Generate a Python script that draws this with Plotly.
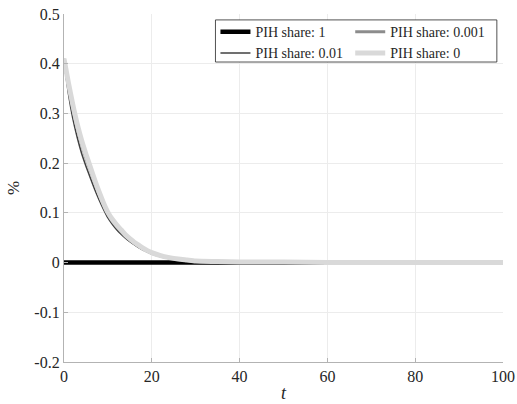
import plotly.graph_objects as go

# Horizon (periods) at which the impulse responses are sampled
t = [0, 1, 2, 3, 4, 5, 6, 7, 8, 9, 10, 11, 12, 13, 14, 15, 16, 17, 18, 19, 20,
     22, 24, 26, 28, 30, 35, 40, 45, 50, 60, 70, 80, 90, 100]

# Impulse responses (%) for each PIH share
irf_share_1 = [0.0] * len(t)
irf_share_001 = [0.405, 0.340, 0.290, 0.252, 0.220, 0.194, 0.170, 0.147, 0.126, 0.107,
                 0.090, 0.077, 0.066, 0.057, 0.049, 0.042, 0.036, 0.030, 0.025, 0.021,
                 0.017, 0.012, 0.008, 0.005, 0.003, 0.002, 0.000, -0.001, -0.001, -0.001,
                 -0.001, 0.000, 0.000, 0.000, 0.000]
irf_share_0001 = [0.410, 0.356, 0.310, 0.271, 0.238, 0.210, 0.185, 0.160, 0.137, 0.116,
                  0.097, 0.083, 0.072, 0.062, 0.053, 0.045, 0.039, 0.033, 0.027, 0.023,
                  0.019, 0.013, 0.009, 0.006, 0.004, 0.003, 0.001, 0.001, 0.000, 0.000,
                  0.000, 0.000, 0.000, 0.000, 0.000]
irf_share_0 = [0.410, 0.362, 0.318, 0.279, 0.246, 0.218, 0.192, 0.166, 0.142, 0.120,
               0.101, 0.087, 0.076, 0.066, 0.056, 0.048, 0.041, 0.035, 0.029, 0.024,
               0.020, 0.014, 0.010, 0.007, 0.005, 0.003, 0.002, 0.001, 0.001, 0.001,
               0.000, 0.000, 0.000, 0.000, 0.000]

series_names = ["PIH share: 1", "PIH share: 0.01", "PIH share: 0.001", "PIH share: 0"]
series_values = [irf_share_1, irf_share_001, irf_share_0001, irf_share_0]
series_colors = ["#000000", "#404040", "#8c8c8c", "#d9d9d9"]
series_widths = [4.5, 1.5, 3, 5]
legend_column = ["legend", "legend", "legend2", "legend2"]

x_ticks = [0, 20, 40, 60, 80, 100]
y_ticks = [-0.2, -0.1, 0, 0.1, 0.2, 0.3, 0.4, 0.5]
y_tick_labels = ["-0.2", "-0.1", "0", "0.1", "0.2", "0.3", "0.4", "0.5"]

FONT = "Times New Roman, Liberation Serif, Noto Serif, DejaVu Serif, serif"
TXT = "#262626"

fig = go.Figure()
for name, vals, col, w, lg in zip(series_names, series_values, series_colors,
                                  series_widths, legend_column):
    fig.add_trace(go.Scatter(
        x=t, y=vals, mode="lines", name=name, legend=lg,
        line=dict(color=col, width=w, shape="spline", smoothing=0.6),
    ))

axis_common = dict(
    showgrid=True, gridcolor="#ececec", gridwidth=1,
    showline=True, linecolor="#b3b3b3", linewidth=1.2,
    ticks="inside", ticklen=4, tickcolor="#b3b3b3",
    zeroline=False, mirror=False, automargin=False,
    tickfont=dict(family=FONT, size=16, color=TXT),
)

fig.update_xaxes(range=[0, 100], tickvals=x_ticks,
                 title=dict(text="<i>t</i>", font=dict(family=FONT, size=18, color=TXT),
                            standoff=2),
                 **axis_common)
fig.update_yaxes(range=[-0.2, 0.5], tickvals=y_ticks, ticktext=y_tick_labels,
                 title=dict(text="%", font=dict(family=FONT, size=17, color=TXT),
                            standoff=10),
                 **axis_common)

# Legend frame shared by the two legend columns
fig.add_shape(type="rect", xref="paper", yref="paper",
              x0=0.345, x1=0.986, y0=0.862, y1=0.983,
              line=dict(color=TXT, width=0.8), fillcolor="white", layer="above")

legend_style = dict(
    orientation="v", yanchor="top", xanchor="left",
    bgcolor="rgba(0,0,0,0)", borderwidth=0,
    font=dict(family=FONT, size=14, color=TXT),
    tracegroupgap=0, itemwidth=30,
)

fig.update_layout(
    width=517, height=404,
    margin=dict(l=64, r=14, t=14, b=42, autoexpand=False),
    plot_bgcolor="white", paper_bgcolor="white",
    font=dict(family=FONT, color=TXT),
    legend=dict(x=0.345, y=0.994, **legend_style),
    legend2=dict(x=0.652, y=0.994, **legend_style),
    showlegend=True,
)

fig.write_html("out.html")
